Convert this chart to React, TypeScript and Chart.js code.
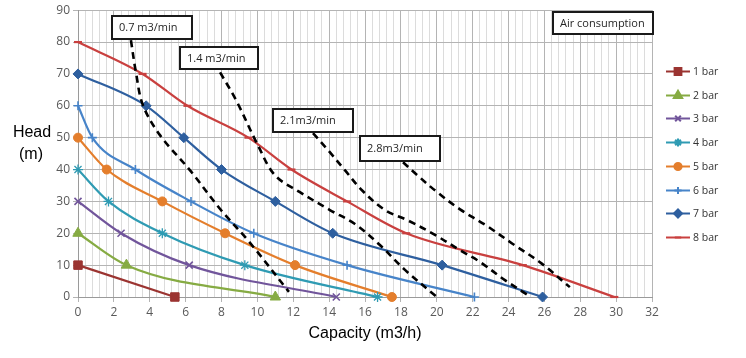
import React, { useEffect, useRef } from 'react';
import { Chart, registerables } from 'chart.js';
import { drawPoint } from 'chart.js/helpers';

Chart.register(...registerables);

// ---------- data ----------
const seriesLabels = ['1 bar', '2 bar', '3 bar', '4 bar', '5 bar', '6 bar', '7 bar', '8 bar'];

const bar1Capacity = [0, 5.4];
const bar1Head = [10, 0];
const bar2Capacity = [0, 2.7, 11.0];
const bar2Head = [20, 10, 0];
const bar3Capacity = [0, 2.4, 6.2, 14.4];
const bar3Head = [30, 20, 10, 0];
const bar4Capacity = [0, 1.7, 4.7, 9.3, 16.7];
const bar4Head = [40, 30, 20, 10, 0];
const bar5Capacity = [0, 1.6, 4.7, 8.2, 12.1, 17.5];
const bar5Head = [50, 40, 30, 20, 10, 0];
const bar6Capacity = [0, 0.8, 3.2, 6.3, 9.8, 15.0, 22.1];
const bar6Head = [60, 50, 40, 30, 20, 10, 0];
const bar7Capacity = [0, 3.8, 5.9, 8.0, 11.0, 14.2, 20.3, 25.9];
const bar7Head = [70, 60, 50, 40, 30, 20, 10, 0];
const bar8Capacity = [0, 3.6, 6.1, 9.5, 11.9, 15.0, 18.3, 24.8, 29.9];
const bar8Head = [80, 70, 60, 50, 40, 30, 20, 10, 0];

const airLabels = ['0.7 m3/min', '1.4 m3/min', '2.1m3/min', '2.8m3/min'];
const airTitle = 'Air consumption';
const air07Capacity = [2.95, 3.23, 3.62, 4.57, 6.24, 7.97, 9.59, 11.76];
const air07Head = [80.6, 70.5, 60.2, 50.8, 39.8, 27.3, 17.0, 1.6];
const air14Capacity = [7.92, 8.81, 10.03, 10.98, 12.37, 14.04, 15.44, 16.83, 18.23, 20.01];
const air14Head = [70.5, 61.8, 47.6, 38.2, 32.9, 27.3, 22.9, 16.3, 8.5, 0];
const air21Capacity = [13.1, 13.94, 14.88, 15.83, 17.11, 18.4, 19.9, 21.29, 22.41, 23.8, 25.08];
const air21Head = [51.4, 46.1, 39.8, 33.5, 27.3, 24.0, 19.5, 14.7, 11.0, 5.3, 0.6];
const air28Capacity = [18.12, 18.9, 20.0, 21.3, 22.8, 24.2, 25.8, 27.42];
const air28Head = [42.3, 38.3, 33.0, 27.5, 22.3, 16.8, 10.7, 3.1];

const xTickLabels = [0, 2, 4, 6, 8, 10, 12, 14, 16, 18, 20, 22, 24, 26, 28, 30, 32];
const yTickLabels = [0, 10, 20, 30, 40, 50, 60, 70, 80, 90];
const xTitle = 'Capacity (m3/h)';
const yTitleLines = ['Head', '(m)'];

// ---------- styles ----------
const seriesColors = ['#9B3431', '#86AB43', '#71559B', '#2F9BB3', '#E47E2C', '#4784C9', '#2E5F9F', '#C9403F'];
const seriesPointStyles = ['rect', 'triangle', 'crossRot', 'star', 'circle', 'cross', 'rectRot', 'line'];
const seriesPointRadius = [6, 6, 5, 5, 4.5, 4.5, 5, 4];
const seriesPointBorder = [1, 1, 1.6, 1.3, 1, 1.6, 1, 2.2];

// annotation boxes: top-left in data coords, size in px
const boxLayout = [
  { x: 1.9, y: 88.1, w: 80, h: 23 },
  { x: 5.69, y: 78.4, w: 78, h: 22 },
  { x: 10.87, y: 58.9, w: 80, h: 23 },
  { x: 15.72, y: 50.5, w: 80, h: 25 },
  { x: 26.48, y: 89.3, w: 100, h: 22 },
];

const seriesCapacity = [bar1Capacity, bar2Capacity, bar3Capacity, bar4Capacity, bar5Capacity, bar6Capacity, bar7Capacity, bar8Capacity];
const seriesHead = [bar1Head, bar2Head, bar3Head, bar4Head, bar5Head, bar6Head, bar7Head, bar8Head];
const airCapacity = [air07Capacity, air14Capacity, air21Capacity, air28Capacity];
const airHead = [air07Head, air14Head, air21Head, air28Head];

const toPoints = (xs: number[], ys: number[]) => xs.map((x, i) => ({ x, y: ys[i] }));
const isMajorX = (v: number) => xTickLabels.some((t) => Math.abs(t - v) < 1e-6);

const overlayPlugin = {
  id: 'overlay',
  afterDraw(chart: any) {
    const { ctx, chartArea, scales } = chart;
    const xs = scales.x;
    const ys = scales.y;
    ctx.save();

    // annotation boxes
    const boxTexts = [...airLabels, airTitle];
    boxLayout.forEach((b, i) => {
      const left = Math.round(xs.getPixelForValue(b.x));
      const top = Math.round(ys.getPixelForValue(b.y));
      ctx.fillStyle = '#ffffff';
      ctx.fillRect(left, top, b.w, b.h);
      ctx.lineWidth = 2;
      ctx.strokeStyle = '#1a1a1a';
      ctx.strokeRect(left, top, b.w, b.h);
      ctx.fillStyle = '#262626';
      ctx.font = '11px "Open Sans"';
      ctx.textBaseline = 'middle';
      ctx.textAlign = 'left';
      ctx.fillText(boxTexts[i], left + 7, top + b.h / 2 + 0.5);
    });

    // legend
    const lx = chartArea.right + 14;
    seriesLabels.forEach((label, i) => {
      const y = Math.round(71 + i * 23.7) + 0.5;
      ctx.strokeStyle = seriesColors[i];
      ctx.lineWidth = 2;
      ctx.beginPath();
      ctx.moveTo(lx, y);
      ctx.lineTo(lx + 24, y);
      ctx.stroke();
      ctx.fillStyle = seriesColors[i];
      drawPoint(ctx, {
        pointStyle: seriesPointStyles[i],
        radius: seriesPointRadius[i] * 0.8,
        rotation: 0,
        borderWidth: seriesPointBorder[i],
      } as any, lx + 12, y);
      ctx.fillStyle = '#333333';
      ctx.font = '10.5px "Open Sans"';
      ctx.textAlign = 'left';
      ctx.textBaseline = 'middle';
      ctx.fillText(label, lx + 27, y + 0.5);
    });

    // axis titles
    ctx.fillStyle = '#000000';
    ctx.font = '16px "Liberation Sans"';
    ctx.textAlign = 'center';
    ctx.textBaseline = 'middle';
    ctx.fillText(xTitle, (chartArea.left + chartArea.right) / 2, 334);
    ctx.fillText(yTitleLines[0], 32, 133);
    ctx.fillText(yTitleLines[1], 31, 155);

    ctx.restore();
  },
};

export default function App() {
  const canvasRef = useRef<HTMLCanvasElement | null>(null);

  useEffect(() => {
    if (!canvasRef.current) return;

    const seriesDatasets = seriesLabels.map((label, i) => ({
      label,
      data: toPoints(seriesCapacity[i], seriesHead[i]),
      borderColor: seriesColors[i],
      backgroundColor: seriesColors[i],
      pointBackgroundColor: seriesColors[i],
      pointBorderColor: seriesColors[i],
      pointStyle: seriesPointStyles[i],
      pointRadius: seriesPointRadius[i],
      pointBorderWidth: seriesPointBorder[i],
      borderWidth: 2.2,
      cubicInterpolationMode: 'monotone' as const,
      tension: 0.4,
      fill: false,
      clip: false as any,
      order: 1,
    }));

    const airDatasets = airLabels.map((label, i) => ({
      label,
      data: toPoints(airCapacity[i], airHead[i]),
      borderColor: '#000000',
      backgroundColor: '#000000',
      borderDash: [7, 5],
      borderWidth: 2.6,
      pointRadius: 0,
      cubicInterpolationMode: 'default' as const,
      tension: 0.35,
      fill: false,
      order: 0,
    }));

    const chart = new Chart(canvasRef.current, {
      type: 'line',
      data: { datasets: [...seriesDatasets, ...airDatasets] as any },
      options: {
        animation: false,
        responsive: false,
        maintainAspectRatio: false,
        layout: { padding: { left: 0, top: 10, right: 94, bottom: 0 } },
        plugins: {
          legend: { display: false },
          tooltip: { enabled: false },
          title: { display: false },
        },
        scales: {
          x: {
            type: 'linear',
            min: 0,
            max: 32,
            ticks: {
              stepSize: 0.4,
              autoSkip: false,
              maxRotation: 0,
              minRotation: 0,
              padding: 3,
              color: '#595959',
              font: { family: '"Open Sans"', size: 12 },
              callback: (v: any) => {
                const n = Number(v);
                const hit = xTickLabels.find((t) => Math.abs(t - n) < 1e-6);
                return hit === undefined ? '' : String(hit);
              },
            },
            grid: {
              color: (c: any) => (c.tick && isMajorX(c.tick.value) ? '#b4b4b4' : '#dcdcdc'),
              tickColor: (c: any) => (c.tick && isMajorX(c.tick.value) ? '#b4b4b4' : 'rgba(0,0,0,0)'),
              tickLength: 5,
              lineWidth: 1,
            },
            border: { color: '#9a9a9a', width: 1 },
            afterFit: (scale: any) => {
              scale.height = 61;
            },
          },
          y: {
            type: 'linear',
            min: 0,
            max: 90,
            ticks: {
              stepSize: 10,
              padding: 3,
              color: '#595959',
              font: { family: '"Open Sans"', size: 12 },
              callback: (v: any) => {
                const n = Number(v);
                const hit = yTickLabels.find((t) => Math.abs(t - n) < 1e-6);
                return hit === undefined ? '' : String(hit);
              },
            },
            grid: {
              color: '#b4b4b4',
              tickColor: '#b4b4b4',
              tickLength: 5,
              lineWidth: 1,
            },
            border: { color: '#9a9a9a', width: 1 },
            afterFit: (scale: any) => {
              scale.width = 78;
            },
          },
        },
      },
      plugins: [overlayPlugin],
    });

    return () => chart.destroy();
  }, []);

  return (
    <div style={{ position: 'fixed', left: 0, top: 0, width: 746, height: 358, background: '#ffffff' }}>
      <canvas ref={canvasRef} width={746} height={358} style={{ width: 746, height: 358, display: 'block' }} />
    </div>
  );
}
